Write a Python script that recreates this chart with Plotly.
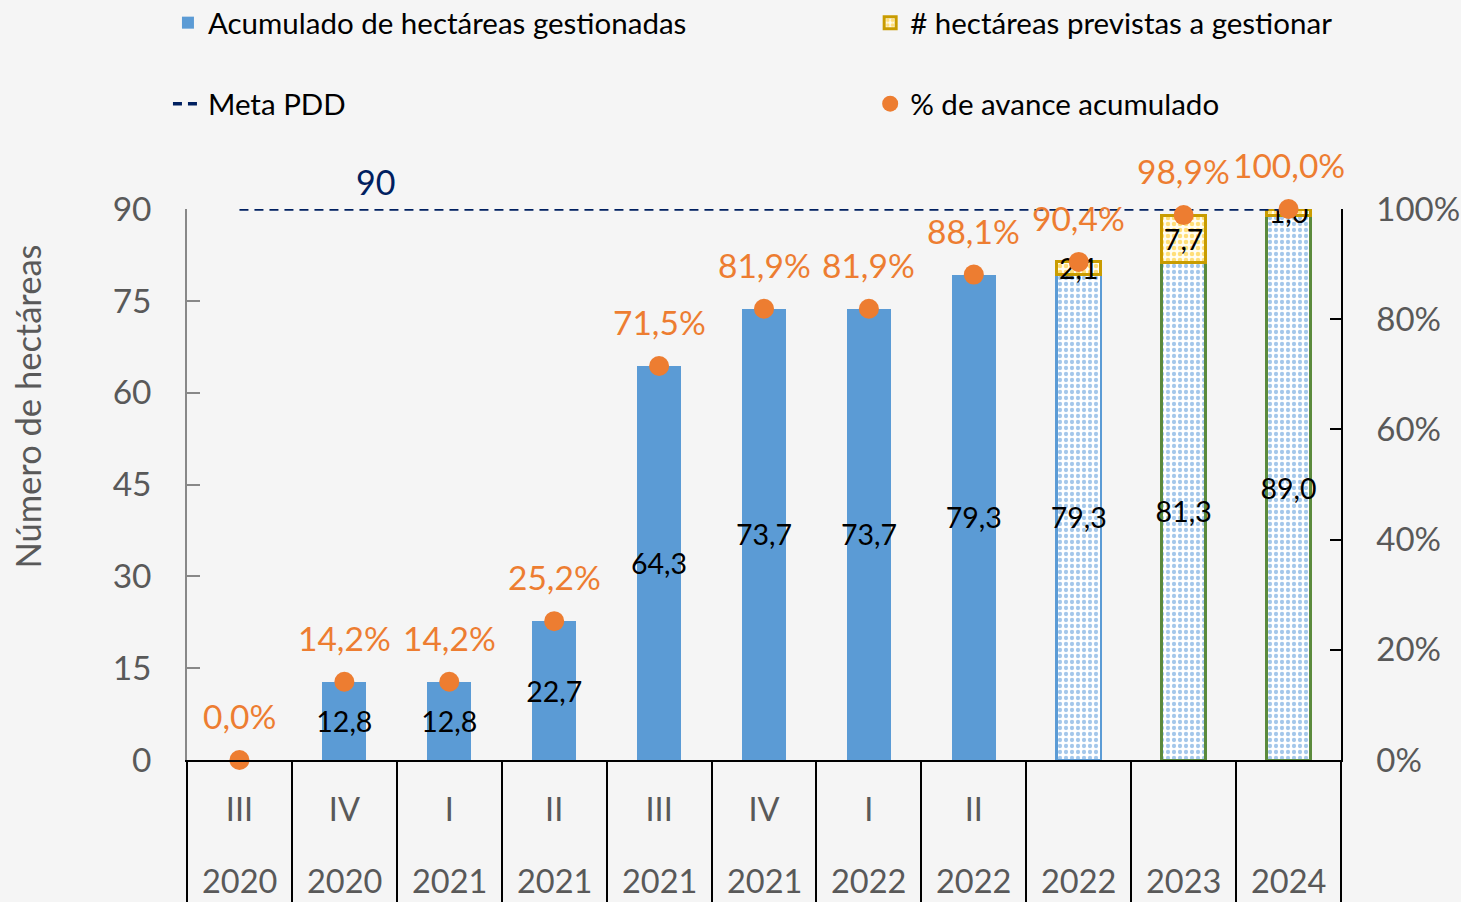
import plotly.graph_objects as go

quarters = ["III", "IV", "I", "II", "III", "IV", "I", "II", "", "", ""]
years = ["2020", "2020", "2021", "2021", "2021", "2021", "2022", "2022", "2022", "2023", "2024"]
acumulado = [0.0, 12.8, 12.8, 22.7, 64.3, 73.7, 73.7, 79.3, 79.3, 81.3, 89.0]
previstas = [None, None, None, None, None, None, None, None, 2.1, 7.7, 1.0]
avance_pct = [0.0, 14.2, 14.2, 25.2, 71.5, 81.9, 81.9, 88.1, 90.4, 98.9, 100.0]
meta = 90
is_projected = [False] * 8 + [True] * 3
outline_colors = ["#5b9bd5"] * 9 + ["#5b8a3c"] * 2

cats = [f"{q or 'Año'} {y}" for q, y in zip(quarters, years)]


def fmt(v):
    return f"{v:.1f}".replace(".", ",")


FONT = "Lato"
GREY = "#595959"
BLUE = "#5b9bd5"
ORANGE = "#ed7d31"
NAVY = "#002060"

real_vals = [None if p else v for v, p in zip(acumulado, is_projected)]
proj_vals = [v if p else None for v, p in zip(acumulado, is_projected)]
proj_lines = [c if p else BLUE for c, p in zip(outline_colors, is_projected)]

fig = go.Figure()

bar_text = dict(
    textposition="inside", insidetextanchor="middle", textangle=0,
    constraintext="none",
    textfont=dict(family=FONT, size=28.5, color="black"),
)

fig.add_trace(go.Bar(
    x=cats, y=real_vals, name="Acumulado de hectáreas gestionadas",
    width=0.42, marker=dict(color=BLUE, line=dict(width=0)),
    text=[fmt(v) if v else "" for v in real_vals],
    legend="legend", legendgroup="acum", **bar_text,
))

fig.add_trace(go.Bar(
    x=cats, y=proj_vals, name="Acumulado de hectáreas gestionadas",
    width=0.42, showlegend=False, legendgroup="acum",
    marker=dict(
        color="white",
        line=dict(color=proj_lines, width=2.5),
        pattern=dict(shape=".", fgcolor="#4a90d6", bgcolor="white", size=6, solidity=0.4),
    ),
    text=[fmt(v) if v else "" for v in proj_vals],
    legend="legend", **bar_text,
))

fig.add_trace(go.Bar(
    x=cats, y=previstas, name="# hectáreas previstas a gestionar",
    width=0.42,
    marker=dict(
        color="white",
        line=dict(color="#c99c00", width=3),
        pattern=dict(shape=".", fgcolor="#ffc000", bgcolor="#fffdf2", size=6, solidity=0.45),
    ),
    text=[fmt(v) if v is not None else "" for v in previstas],
    legend="legend2", **bar_text,
))

fig.add_trace(go.Scatter(
    x=cats, y=[meta] * len(cats), name="Meta PDD", mode="lines",
    line=dict(color=NAVY, width=3.5, dash="9px,6px"),
    legend="legend3",
))

fig.add_trace(go.Scatter(
    x=cats, y=[p / 100 for p in avance_pct], name="% de avance acumulado",
    mode="markers", yaxis="y2",
    marker=dict(color=ORANGE, size=20),
    cliponaxis=False,
    legend="legend4",
))

annotations = []
for c, p in zip(cats, avance_pct):
    annotations.append(dict(
        x=c, y=p / 100, xref="x", yref="y2", text=fmt(p) + "%",
        showarrow=False, yshift=44, yanchor="middle",
        font=dict(family=FONT, size=33.5, color=ORANGE),
    ))
for c, y in zip(cats, years):
    annotations.append(dict(
        x=c, y=0, xref="x", yref="paper", text=y, showarrow=False,
        yshift=-120, yanchor="middle",
        font=dict(family=FONT, size=32.5, color=GREY),
    ))
annotations.append(dict(
    x=cats[1], y=meta, xref="x", yref="y", text=str(meta), showarrow=False,
    xanchor="left", xshift=10, yshift=28, yanchor="middle",
    font=dict(family=FONT, size=34, color=NAVY),
))
annotations.append(dict(
    x=-0.138, y=0.641, xref="paper", yref="paper", text="Número de hectáreas",
    textangle=-90, showarrow=False, xanchor="center", yanchor="middle",
    font=dict(family=FONT, size=34.5, color=GREY),
))

legend_common = dict(
    orientation="h", xanchor="left", yanchor="middle",
    bgcolor="rgba(0,0,0,0)",
    font=dict(family=FONT, size=29.5, color="black"),
)

fig.update_layout(
    width=1461, height=902,
    margin=dict(l=187, r=120, t=209, b=142, autoexpand=False),
    paper_bgcolor="#f5f5f5", plot_bgcolor="rgba(0,0,0,0)",
    barmode="stack",
    showlegend=True,
    font=dict(family=FONT, color=GREY),
    annotations=annotations,
    xaxis=dict(
        type="category", categoryorder="array", categoryarray=cats,
        range=[-0.5, len(cats) - 0.5],
        tickvals=cats, ticktext=quarters,
        tickson="boundaries", ticks="outside", ticklen=142, tickwidth=2, tickcolor="black",
        ticklabelstandoff=20,
        showline=True, linecolor="black", linewidth=2,
        tickfont=dict(family=FONT, size=32.5, color=GREY),
        showgrid=False, zeroline=False,
    ),
    yaxis=dict(
        range=[0, 90], tickvals=[0, 15, 30, 45, 60, 75, 90],
        ticks="inside", ticklen=13, tickcolor="#888888", tickwidth=1.5,
        showline=True, linecolor="#888888", linewidth=1.5,
        ticklabelstandoff=27,
        tickfont=dict(family=FONT, size=33.5, color=GREY),
        showgrid=False, zeroline=False,
    ),
    yaxis2=dict(
        overlaying="y", side="right", range=[0, 1],
        tickvals=[0, 0.2, 0.4, 0.6, 0.8, 1.0], tickformat=".0%",
        ticks="inside", ticklen=11, tickcolor="black", tickwidth=1.5,
        showline=True, linecolor="black", linewidth=1.5,
        ticklabelstandoff=27,
        tickfont=dict(family=FONT, size=33, color=GREY),
        showgrid=False, zeroline=False,
    ),
    legend=dict(x=-0.0165, y=1.3376, **legend_common),
    legend2=dict(x=0.592, y=1.3376, **legend_common),
    legend3=dict(x=-0.0165, y=1.1906, **legend_common),
    legend4=dict(x=0.592, y=1.1906, **legend_common),
)

fig.write_html("out.html", config={"displayModeBar": False},
               post_script="document.body.style.margin='0';")
